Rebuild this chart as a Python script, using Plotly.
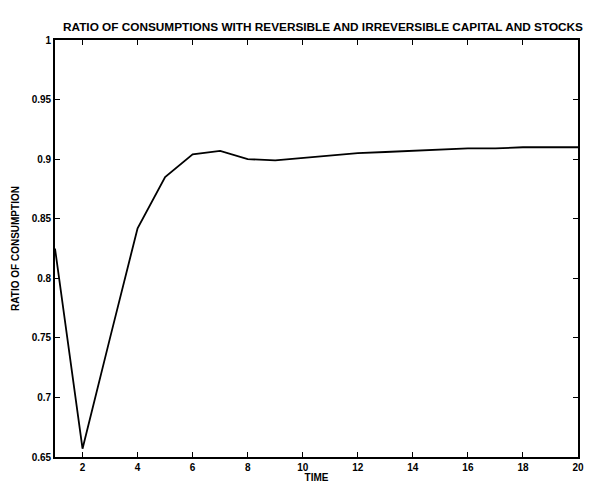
import plotly.graph_objects as go

time = list(range(1, 21))
ratio = [0.825, 0.657, 0.750, 0.842, 0.885, 0.904, 0.907, 0.900, 0.899, 0.901,
         0.903, 0.905, 0.906, 0.907, 0.908, 0.909, 0.909, 0.910, 0.910, 0.910]

x_ticks = list(range(2, 21, 2))
y_ticks = [0.65, 0.7, 0.75, 0.8, 0.85, 0.9, 0.95, 1.0]
y_labels = ["0.65", "0.7", "0.75", "0.8", "0.85", "0.9", "0.95", "1"]

title = "RATIO OF CONSUMPTIONS WITH REVERSIBLE AND IRREVERSIBLE CAPITAL AND STOCKS"
font = "Liberation Sans, Arial, sans-serif"

fig = go.Figure()
fig.add_trace(go.Scatter(x=time, y=ratio, mode="lines",
                         line=dict(color="black", width=1.8), showlegend=False))

axis_common = dict(showgrid=False, zeroline=False, showline=True, linecolor="black",
                   linewidth=1.8, mirror="ticks", ticks="inside", ticklen=5,
                   tickwidth=1.2, tickcolor="black", automargin=False,
                   ticklabeloverflow="allow",
                   tickfont=dict(family=font, size=10, color="black", weight="bold"))

fig.update_xaxes(range=[1, 20], tickvals=x_ticks, **axis_common,
                 title=dict(text="TIME", standoff=0,
                            font=dict(family=font, size=10, color="black", weight="bold")))
fig.update_yaxes(range=[0.65, 1.0], tickvals=y_ticks, ticktext=y_labels, **axis_common,
                 title=dict(text="RATIO OF CONSUMPTION", standoff=10,
                            font=dict(family=font, size=10, color="black", weight="bold")))

# the page body has an 8px margin on every side, so the figure fits inside it
fig.update_layout(
    width=576, height=475,
    margin=dict(l=47, r=6, t=32, b=26, autoexpand=False),
    paper_bgcolor="white", plot_bgcolor="white",
    title=dict(text=title, x=55 / 576, xref="container", xanchor="left",
               y=1, yref="paper", yanchor="bottom", pad=dict(b=9),
               font=dict(family=font, size=11.8, color="black", weight="bold")),
)

fig.write_html("out.html")
